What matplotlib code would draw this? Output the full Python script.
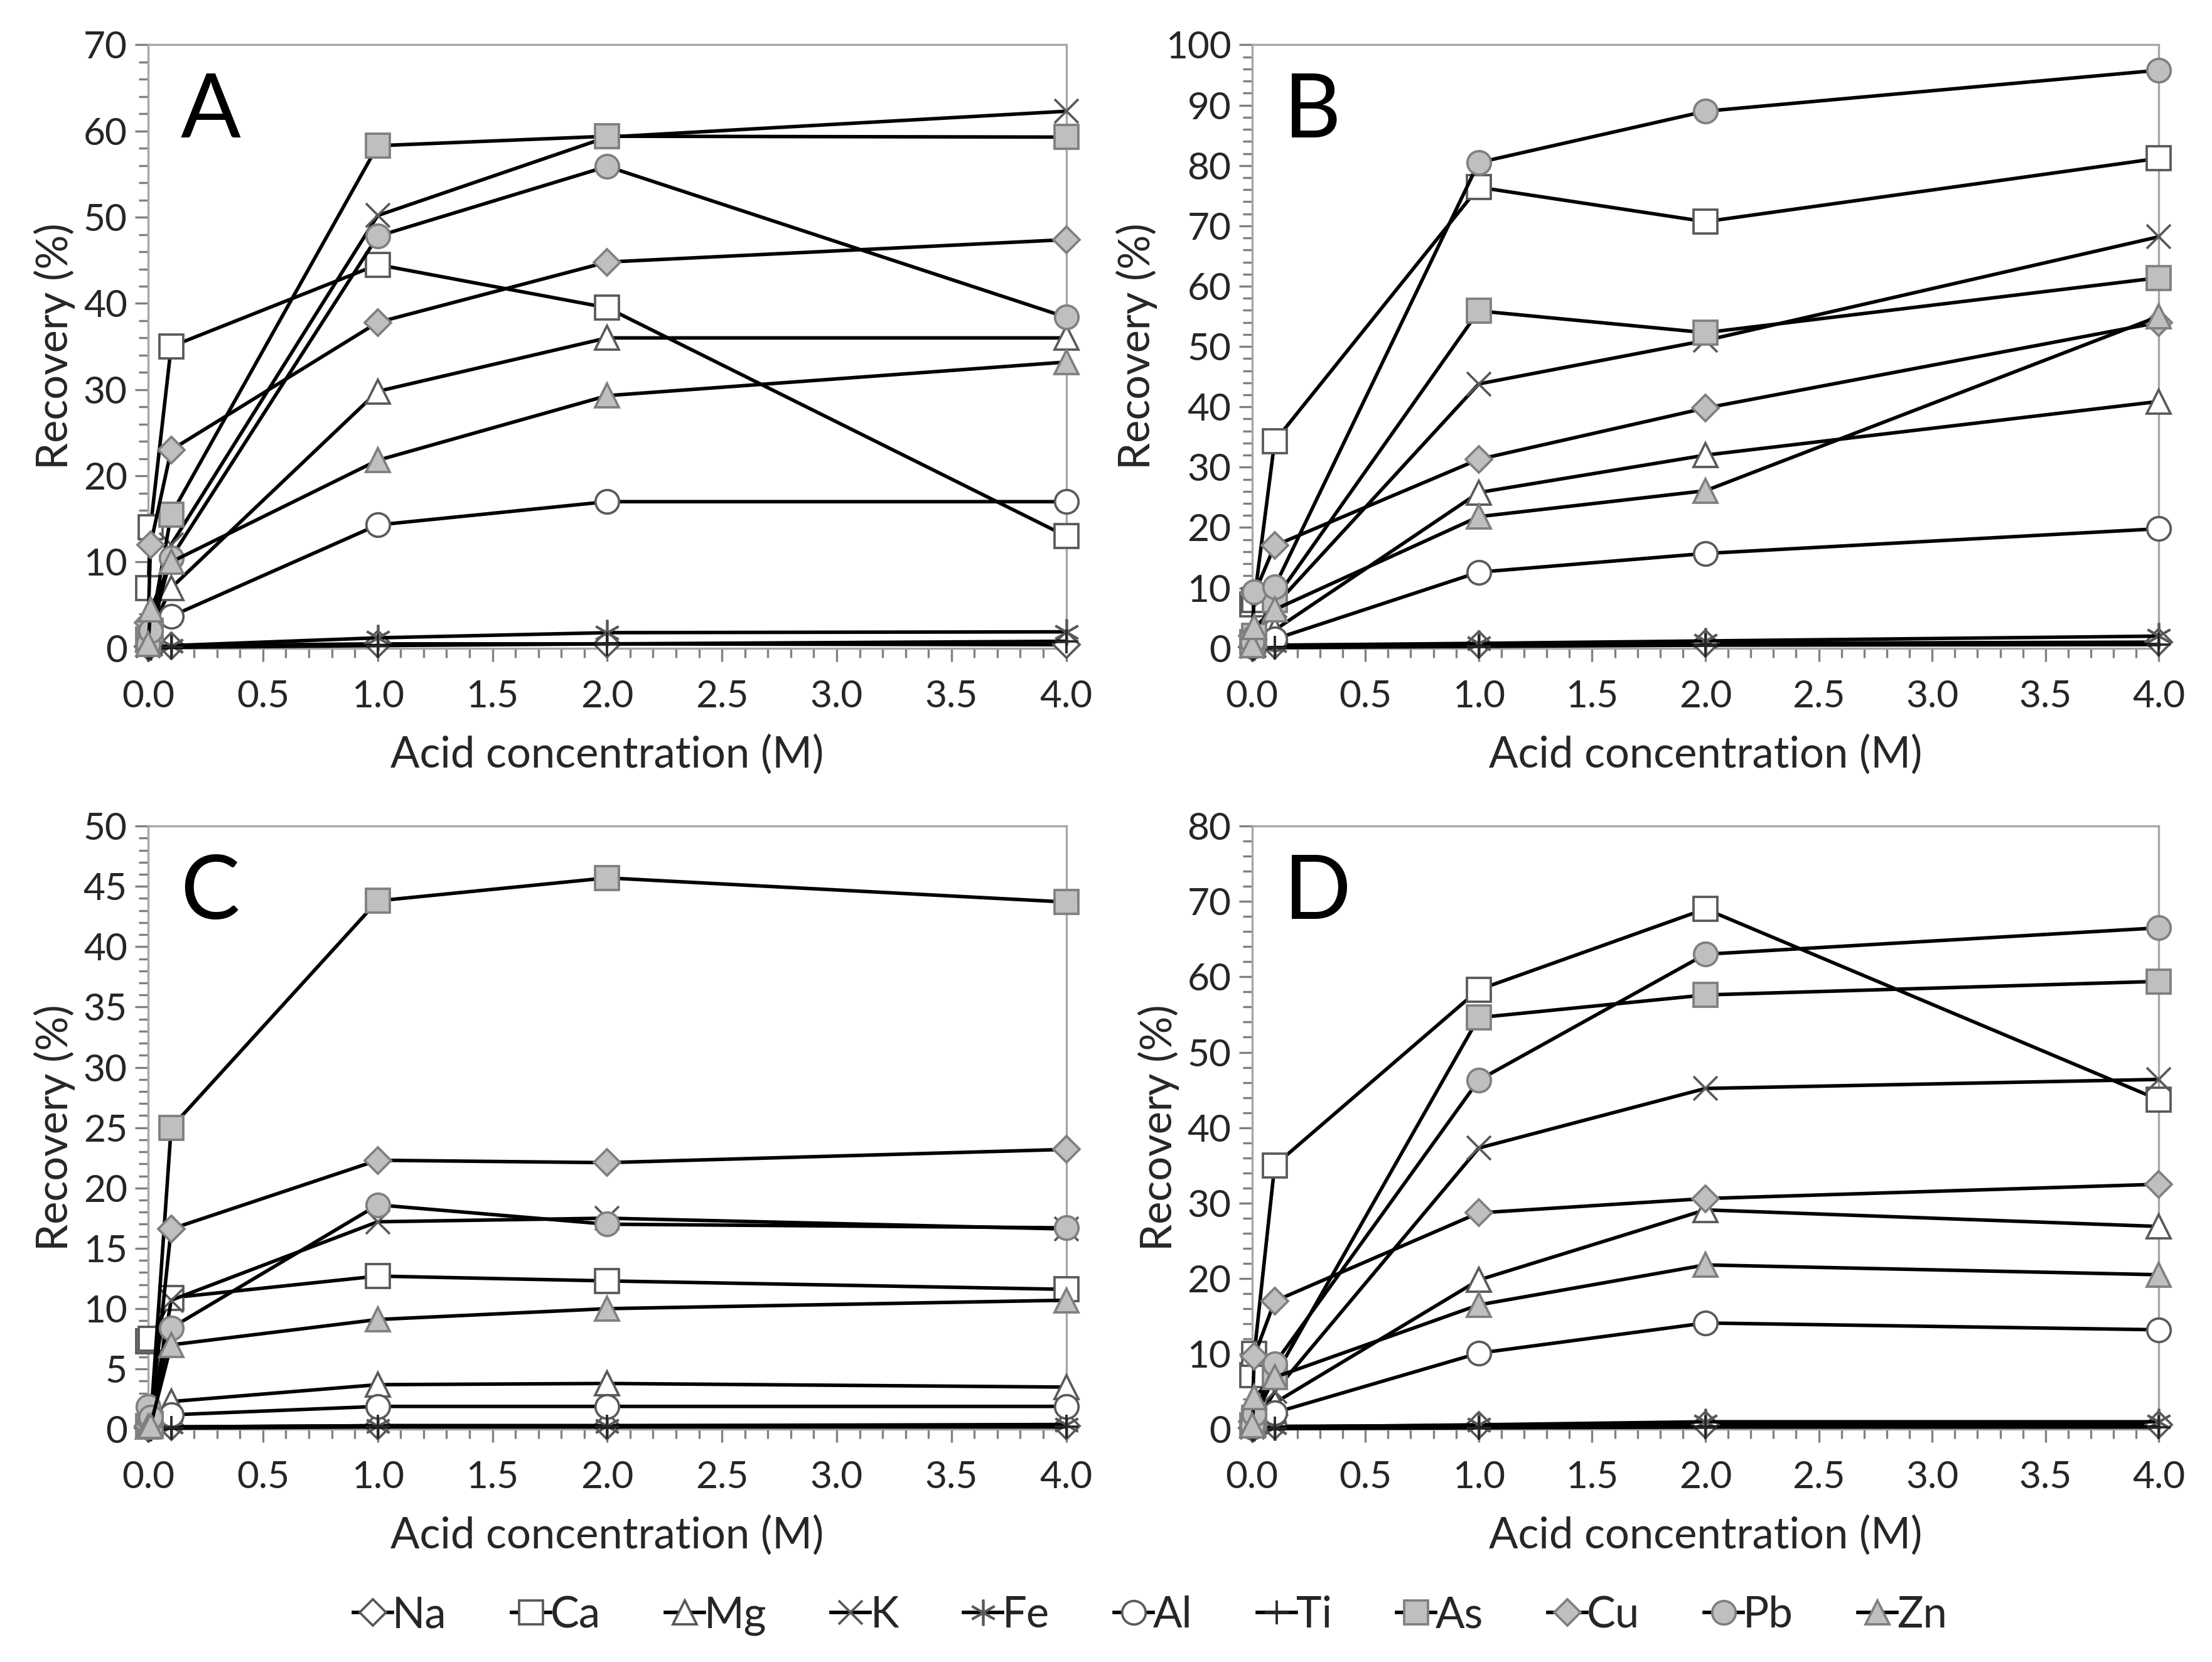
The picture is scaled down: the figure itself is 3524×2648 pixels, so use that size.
import numpy as np
import matplotlib.pyplot as plt
from matplotlib.ticker import MultipleLocator, FormatStrFormatter
from matplotlib.lines import Line2D

plt.rcParams['font.family'] = ['Lato', 'DejaVu Sans']

# acid concentration (M)
conc = [0, 0.01, 0.1, 1, 2, 4]

elements = ['Na', 'Ca', 'Mg', 'K', 'Fe', 'Al', 'Ti', 'As', 'Cu', 'Pb', 'Zn']

# recovery (%) per element, same order as `elements`
rec_A = [
    [0.2, 0.3, 0.3, 0.5, 0.5, 0.4],     # Na
    [7.0, 14.0, 35.0, 44.5, 39.5, 13.0],  # Ca
    [1.0, 2.0, 7.0, 29.8, 36.0, 36.0],  # Mg
    [0.3, 0.5, 12.0, 50.2, 59.3, 62.3],  # K
    [0.0, 0.1, 0.3, 1.2, 1.8, 1.9],     # Fe
    [0.5, 1.0, 3.7, 14.3, 17.0, 17.0],  # Al
    [0.0, 0.0, 0.1, 0.3, 0.5, 0.8],     # Ti
    [1.0, 2.0, 15.5, 58.3, 59.4, 59.3],  # As
    [3.0, 12.0, 23.0, 37.8, 44.8, 47.4],  # Cu
    [0.5, 2.0, 10.5, 47.8, 55.9, 38.4],  # Pb
    [0.5, 4.5, 10.0, 21.8, 29.3, 33.2],  # Zn
]
rec_B = [
    [0.2, 0.3, 0.5, 0.6, 0.8, 1.0],
    [7.3, 8.0, 34.3, 76.4, 70.7, 81.2],
    [0.5, 1.5, 3.0, 25.8, 32.0, 40.9],
    [0.3, 0.5, 7.0, 43.8, 51.0, 68.2],
    [0.0, 0.2, 0.5, 0.8, 1.2, 2.0],
    [0.3, 0.8, 1.5, 12.6, 15.7, 19.8],
    [0.0, 0.0, 0.1, 0.3, 0.5, 0.6],
    [1.0, 2.0, 8.0, 55.9, 52.3, 61.4],
    [2.0, 9.0, 17.0, 31.3, 39.8, 54.0],
    [1.0, 9.3, 10.2, 80.5, 89.0, 95.8],
    [0.5, 3.5, 6.4, 21.8, 26.1, 55.0],
]
rec_C = [
    [0.1, 0.2, 0.2, 0.3, 0.3, 0.3],
    [7.3, 7.5, 10.9, 12.7, 12.3, 11.6],
    [0.3, 0.5, 2.3, 3.7, 3.8, 3.5],
    [0.2, 0.4, 10.7, 17.2, 17.5, 16.6],
    [0.0, 0.1, 0.2, 0.3, 0.3, 0.4],
    [0.3, 0.6, 1.2, 1.9, 1.9, 1.9],
    [0.0, 0.0, 0.1, 0.2, 0.2, 0.2],
    [0.3, 0.5, 25.0, 43.8, 45.7, 43.7],
    [0.3, 0.5, 16.6, 22.3, 22.1, 23.2],
    [1.9, 1.0, 8.4, 18.6, 17.0, 16.7],
    [0.2, 0.3, 7.0, 9.1, 10.0, 10.7],
]
rec_D = [
    [0.2, 0.3, 0.4, 0.5, 0.6, 0.6],
    [7.2, 10.0, 35.0, 58.3, 69.0, 43.7],
    [0.5, 1.0, 3.5, 19.8, 29.1, 26.9],
    [0.3, 0.5, 5.0, 37.3, 45.2, 46.4],
    [0.0, 0.2, 0.3, 0.6, 1.0, 1.0],
    [0.3, 0.8, 2.2, 10.1, 14.1, 13.2],
    [0.0, 0.0, 0.1, 0.2, 0.3, 0.3],
    [0.5, 1.5, 7.0, 54.6, 57.6, 59.4],
    [1.0, 9.7, 17.0, 28.7, 30.6, 32.5],
    [0.5, 2.0, 8.7, 46.3, 63.0, 66.5],
    [0.5, 4.3, 6.9, 16.5, 21.8, 20.5],
]

panels = ['A', 'B', 'C', 'D']
panel_data = [rec_A, rec_B, rec_C, rec_D]
y_max = [70, 100, 50, 80]
y_major = [10, 10, 5, 10]
y_minor = [2, 2, 1, 2]

grey_fill = '#bfbfbf'
grey_edge = '#7f7f7f'
open_edge = '#595959'
styles = {
    'Na': dict(marker='D', ms=7, mfc='white', mec=open_edge),
    'Ca': dict(marker='s', ms=9, mfc='white', mec=open_edge),
    'Mg': dict(marker='^', ms=9, mfc='white', mec=open_edge),
    'K': dict(marker='x', ms=9, mec=open_edge),
    'Fe': dict(marker=(6, 2, 0), ms=10, mec=open_edge),
    'Al': dict(marker='o', ms=9, mfc='white', mec=open_edge),
    'Ti': dict(marker='+', ms=9, mec='#262626'),
    'As': dict(marker='s', ms=9, mfc=grey_fill, mec=grey_edge),
    'Cu': dict(marker='D', ms=7, mfc=grey_fill, mec=grey_edge),
    'Pb': dict(marker='o', ms=9, mfc=grey_fill, mec=grey_edge),
    'Zn': dict(marker='^', ms=9, mfc=grey_fill, mec=grey_edge),
}

fig = plt.figure(figsize=(3524 / 300, 2648 / 300), dpi=300)
boxes = [
    [0.067, 0.610, 0.415, 0.363],
    [0.566, 0.610, 0.410, 0.363],
    [0.067, 0.140, 0.415, 0.363],
    [0.566, 0.140, 0.410, 0.363],
]

for i, name in enumerate(panels):
    ax = fig.add_axes(boxes[i])
    for j, el in enumerate(elements):
        ax.plot(conc, panel_data[i][j], color='black', lw=1.35,
                mew=0.9, clip_on=False, zorder=3, **styles[el])
    ax.set_xlim(0, 4)
    ax.set_ylim(0, y_max[i])
    ax.xaxis.set_major_locator(MultipleLocator(0.5))
    ax.xaxis.set_minor_locator(MultipleLocator(0.1))
    ax.xaxis.set_major_formatter(FormatStrFormatter('%.1f'))
    ax.yaxis.set_major_locator(MultipleLocator(y_major[i]))
    ax.yaxis.set_minor_locator(MultipleLocator(y_minor[i]))
    for s in ax.spines.values():
        s.set_color('#a6a6a6')
        s.set_linewidth(0.8)
    ax.tick_params(which='both', direction='out', color='#808080',
                   labelsize=14.5, labelcolor='#262626')
    ax.tick_params(which='major', length=5, width=0.8)
    ax.tick_params(which='minor', length=3.5, width=0.8)
    ax.tick_params(axis='x', pad=7)
    ax.tick_params(axis='y', pad=3)
    ax.set_xlabel('Acid concentration (M)', fontsize=16.5, color='#262626', labelpad=8)
    ax.set_ylabel('Recovery (%)', fontsize=16.5, color='#262626', labelpad=3)
    ax.text(0.035, 0.955, name, transform=ax.transAxes, fontsize=34,
            va='top', ha='left', color='black', zorder=5)

handles = [Line2D([], [], color='black', lw=1.35, mew=0.9, **styles[el]) for el in elements]
fig.legend(handles, elements, loc='center', bbox_to_anchor=(0.52, 0.028), ncol=11,
           frameon=False, fontsize=16.5, handlelength=0.9, handletextpad=0.0,
           columnspacing=1.5, labelcolor='#262626')

fig.savefig('out.png', dpi=300)
